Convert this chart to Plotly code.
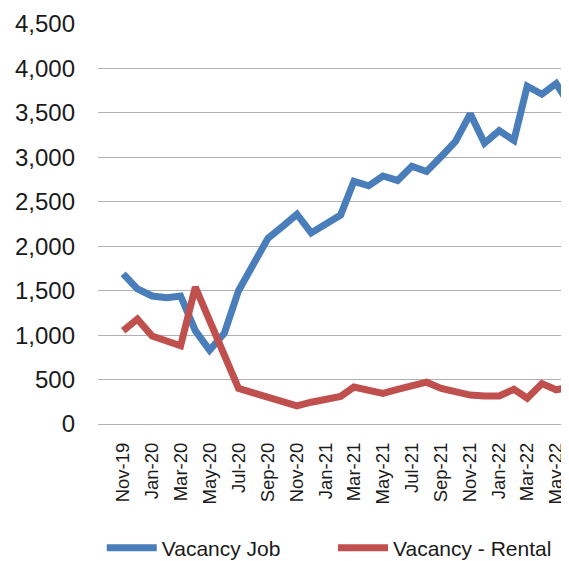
import plotly.graph_objects as go

months = [
    "2019-11-01", "2019-12-01",
    "2020-01-01", "2020-02-01", "2020-03-01", "2020-04-01", "2020-05-01", "2020-06-01",
    "2020-07-01", "2020-08-01", "2020-09-01", "2020-10-01", "2020-11-01", "2020-12-01",
    "2021-01-01", "2021-02-01", "2021-03-01", "2021-04-01", "2021-05-01", "2021-06-01",
    "2021-07-01", "2021-08-01", "2021-09-01", "2021-10-01", "2021-11-01", "2021-12-01",
    "2022-01-01", "2022-02-01", "2022-03-01", "2022-04-01", "2022-05-01", "2022-06-01",
]

vacancy_job = [
    1690, 1520,
    1440, 1420, 1440, 1050, 830, 1020,
    1500, 1800, 2090, 2220, 2360, 2150,
    2250, 2350, 2730, 2680, 2790, 2740,
    2900, 2840, 3010, 3180, 3490, 3160,
    3300, 3190, 3800, 3710, 3830, 3570,
]

vacancy_rental = [
    1050, 1180,
    990, 935, 880, 1540, 1160, 780,
    400, 350, 300, 250, 205, 245,
    280, 310, 415, 380, 345, 390,
    430, 470, 400, 360, 325, 315,
    315, 390, 290, 455, 385, 415,
]

y_ticks = [0, 500, 1000, 1500, 2000, 2500, 3000, 3500, 4000, 4500]

BLUE = "#4a7ebb"
RED = "#c0504d"
FONT = "Liberation Sans, Arial, sans-serif"
TXT = "#1a1a1a"

fig = go.Figure()
fig.add_trace(go.Scatter(x=months, y=vacancy_job, mode="lines", name="Vacancy Job",
                         line=dict(color=BLUE, width=7), legend="legend"))
fig.add_trace(go.Scatter(x=months, y=vacancy_rental, mode="lines", name="Vacancy - Rental",
                         line=dict(color=RED, width=7), legend="legend2"))

legend_common = dict(orientation="h", yanchor="middle", y=-0.31, xanchor="left",
                     font=dict(size=21, family=FONT, color=TXT),
                     bgcolor="rgba(0,0,0,0)", itemwidth=50)

# The page body adds an 8px offset, so the figure is 8px smaller than the window.
fig.update_layout(
    width=561, height=553,
    margin=dict(l=90, r=0, t=16, b=137, autoexpand=False),
    paper_bgcolor="white", plot_bgcolor="white",
    font=dict(family=FONT, color=TXT),
    showlegend=True,
    legend=dict(x=0.008, **legend_common),
    legend2=dict(x=0.499, **legend_common),
    xaxis=dict(type="date", range=["2019-09-09", "2022-05-28"],
               tick0="2019-11-01", dtick="M2", tickformat="%b-%y",
               tickangle=-90, showgrid=False, zeroline=False, showline=False,
               ticks="", ticklabelstandoff=14, automargin=False,
               tickfont=dict(size=18.5, family=FONT, color=TXT)),
    yaxis=dict(range=[0, 4500], tickvals=y_ticks, tickformat=",",
               showgrid=True, gridcolor="#b0b0b0", gridwidth=1,
               zeroline=True, zerolinecolor="#b0b0b0", zerolinewidth=1,
               showline=False, ticks="", ticklabelstandoff=22, automargin=False,
               tickfont=dict(size=24, family=FONT, color=TXT)),
)

fig.write_html("out.html")
